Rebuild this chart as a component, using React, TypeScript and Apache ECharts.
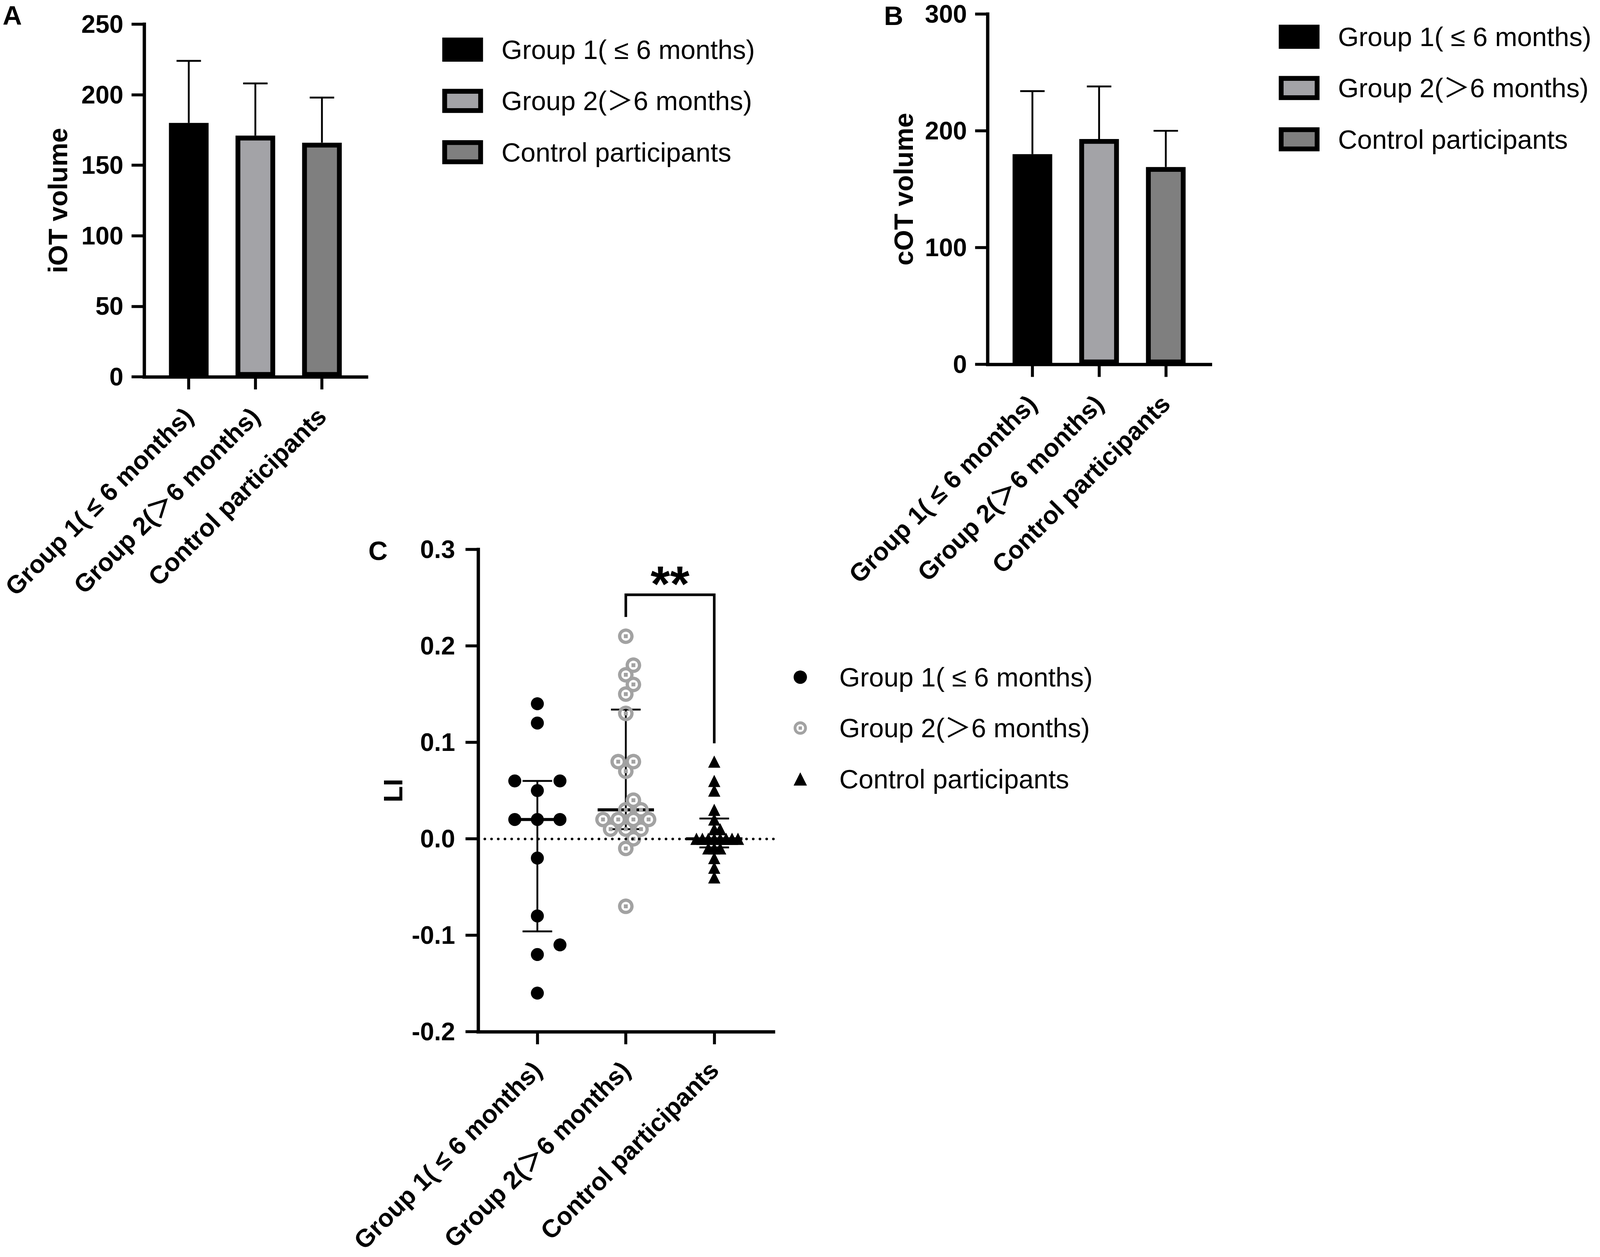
import React, { useEffect, useRef } from 'react';
import * as echarts from 'echarts';

// ---------- data ----------
const categories = ['Group 1( ≤ 6 months)', 'Group 2(＞6 months)', 'Control participants'];

const iotMean = [180, 171, 166];
const iotSdTop = [224, 208, 198];
const cotMean = [180, 193, 169];
const cotSdTop = [234, 238, 200];

const iotTicks = [0, 250, 50];
const cotTicks = [0, 300, 100];
const liTicks = [-0.2, 0.3, 0.1];

const liGroup1 = [0.14, 0.12, 0.06, 0.06, 0.05, 0.02, 0.02, 0.02, -0.02, -0.08, -0.11, -0.12, -0.16];
const liGroup2 = [0.21, 0.18, 0.17, 0.16, 0.15, 0.13, 0.08, 0.08, 0.07, 0.04, 0.03, 0.03, 0.02, 0.02, 0.02, 0.02, 0.01, 0.01, 0.01, 0.0, -0.01, -0.07];
const liControl = [0.08, 0.06, 0.05, 0.03, 0.02, 0.01, 0.01, 0, 0, 0, 0, 0, 0, 0, 0, -0.01, -0.01, -0.01, -0.02, -0.03, -0.04];

const liMedian = [0.02, 0.03, 0.0];
const liLow = [-0.096, 0.01, -0.009];
const liHigh = [0.06, 0.134, 0.021];

const sigPair = [1, 2];
const sigTop = 0.253;
const sigEnds = [0.23, 0.099];
const sigText = '**';

// ---------- layout / style (designed for a 4317 x 3219 canvas, scaled to the real size) ----------
const W = 4317;
const H = 3219;
const FONT = "'Liberation Sans', Arial, 'Noto Sans CJK SC', sans-serif";
const XMIN = -0.67;
const XMAX = 2.67;
const gridA = { left: 385, top: 62, width: 604, height: 903 };
const gridB = { left: 2665, top: 36, width: 601, height: 897 };
const gridC = { left: 1290, top: 1407, width: 797, height: 1235 };
const barColors = ['#000000', '#a3a3a7', '#7f7f7f'];
const RING =
  'path://M20,0 C31.05,0 40,8.95 40,20 C40,31.05 31.05,40 20,40 C8.95,40 0,31.05 0,20 C0,8.95 8.95,0 20,0 Z ' +
  'M20,8.5 C13.65,8.5 8.5,13.65 8.5,20 C8.5,26.35 13.65,31.5 20,31.5 C26.35,31.5 31.5,26.35 31.5,20 C31.5,13.65 26.35,8.5 20,8.5 Z ' +
  'M15,15 L25,15 L25,25 L15,25 Z';

function swarm(vals: number[], half: number, thr: number, pyu: number) {
  const order = vals.map((_, i) => i).sort((a, b) => vals[a] - vals[b]);
  const placed: { x: number; y: number }[] = [];
  const out: { dx: number; v: number }[] = new Array(vals.length);
  for (const i of order) {
    const y = vals[i] * pyu;
    for (let s = 0; s < 400; s++) {
      const k = s === 0 ? 0 : s % 2 === 1 ? (s + 1) / 2 : -s / 2;
      const x = k * half;
      if (placed.every((p) => Math.hypot(p.x - x, p.y - y) >= thr)) {
        placed.push({ x, y });
        out[i] = { dx: x, v: vals[i] };
        break;
      }
    }
  }
  return out;
}

function buildOption(cw: number, ch: number) {
  const sx = cw / W;
  const sy = ch / H;
  const s = Math.min(sx, sy);
  const X = (v: number) => v * sx;
  const Y = (v: number) => v * sy;
  const S = (v: number) => v * s;
  const g = (r: any) => ({ left: X(r.left), top: Y(r.top), width: X(r.width), height: Y(r.height), containLabel: false });

  const xAxisFor = (gridIndex: number, margin: number) => ({
    type: 'value',
    gridIndex,
    min: XMIN,
    max: XMAX,
    splitLine: { show: false },
    axisLine: { show: true, onZero: false, lineStyle: { color: '#000', width: S(9), cap: 'square' } },
    axisTick: { show: true, customValues: [0, 1, 2], length: S(34), lineStyle: { color: '#000', width: S(8) } },
    axisLabel: {
      show: true,
      customValues: [0, 1, 2],
      rotate: 45,
      margin: S(margin),
      formatter: (v: number) => categories[Math.round(v)] ?? '',
      fontFamily: FONT,
      fontWeight: 'bold',
      fontSize: S(68),
      color: '#000',
    },
  });

  const yAxisFor = (gridIndex: number, ticks: number[], name: string, nameGap: number, margin: number, fmt?: (v: number) => string) => ({
    type: 'value',
    gridIndex,
    min: ticks[0],
    max: ticks[1],
    interval: ticks[2],
    splitLine: { show: false },
    axisLine: { show: true, onZero: false, lineStyle: { color: '#000', width: S(9), cap: 'square' } },
    axisTick: { show: true, length: S(34), lineStyle: { color: '#000', width: S(8) } },
    axisLabel: { margin: S(margin), fontSize: S(68), fontWeight: 'bold', fontFamily: FONT, color: '#000', formatter: fmt },
    name,
    nameLocation: 'middle',
    nameGap: S(nameGap),
    nameTextStyle: { fontSize: S(72), fontWeight: 'bold', fontFamily: FONT, color: '#000' },
  });

  const barSeries = (prefix: string, axis: number, means: number[]) =>
    categories.map((c, i) => ({
      type: 'bar',
      name: prefix + c,
      xAxisIndex: axis,
      yAxisIndex: axis,
      data: [[i, means[i]]],
      barWidth: S(107),
      barGap: '-100%',
      itemStyle: { color: barColors[i], borderColor: '#000', borderWidth: S(13), opacity: 1 },
      z: 2,
      silent: true,
    }));

  const sdSeries = (axis: number, means: number[], tops: number[]) => ({
    type: 'custom',
    xAxisIndex: axis,
    yAxisIndex: axis,
    silent: true,
    z: 3,
    data: means.map((m, i) => [i, m, tops[i]]),
    renderItem: (_p: any, api: any) => {
      const p0 = api.coord([api.value(0), api.value(1)]);
      const p1 = api.coord([api.value(0), api.value(2)]);
      const st = { stroke: '#000', lineWidth: S(5) };
      return {
        type: 'group',
        children: [
          { type: 'line', shape: { x1: p0[0], y1: p0[1], x2: p1[0], y2: p1[1] }, style: st },
          { type: 'line', shape: { x1: p1[0] - S(33), y1: p1[1], x2: p1[0] + S(33), y2: p1[1] }, style: st },
        ],
      };
    },
  });

  const legendFor = (names: string[], left: number, top: number, bars: boolean) => {
    const base: any = {
      orient: 'vertical',
      left: X(left),
      top: Y(top),
      selectedMode: false,
      data: names,
      formatter: (n: string) => n.slice(2),
      textStyle: { fontSize: S(72), fontFamily: FONT, color: '#000', padding: [0, 0, 0, S(bars ? 51 : 82)] },
    };
    if (bars) {
      base.icon = 'rect';
      base.itemWidth = S(97);
      base.itemHeight = S(52);
      base.itemGap = Y(63);
      base.itemStyle = { borderColor: '#000', borderWidth: S(13), opacity: 1 };
    } else {
      base.itemWidth = S(36);
      base.itemHeight = S(36);
      base.itemGap = Y(62);
      base.itemStyle = { opacity: 1 };
    }
    return base;
  };

  const letter = (t: string, x: number, y: number) => ({
    type: 'text',
    x: X(x),
    y: Y(y),
    style: { text: t, fontSize: S(72), fontWeight: 'bold', fontFamily: FONT, fill: '#000', textAlign: 'left', textVerticalAlign: 'middle', verticalAlign: 'middle' },
  });

  const pxX = X(gridC.width) / (XMAX - XMIN);
  const pyu = Y(gridC.height) / (liTicks[1] - liTicks[0]);
  const toPts = (vals: number[], idx: number, half: number, thr: number) =>
    swarm(vals, S(half), S(thr), pyu).map((p) => [idx + p.dx / pxX, p.v]);

  const namesA = categories.map((c) => 'A:' + c);
  const namesB = categories.map((c) => 'B:' + c);
  const namesC = categories.map((c) => 'C:' + c);

  return {
    animation: false,
    backgroundColor: '#fff',
    grid: [g(gridA), g(gridB), g(gridC)],
    xAxis: [xAxisFor(0, 95), xAxisFor(1, 95), xAxisFor(2, 92)],
    yAxis: [
      yAxisFor(0, iotTicks, 'iOT volume', 197, 56),
      yAxisFor(1, cotTicks, 'cOT volume', 191, 56),
      yAxisFor(2, liTicks, 'LI', 194, 62, (v: number) => v.toFixed(1)),
    ],
    legend: [
      legendFor(namesA, 1188, 88, true),
      legendFor(namesB, 3445, 55, true),
      legendFor(namesC, 2136, 1695, false),
    ],
    graphic: [letter('A', 7, 39), letter('B', 2385, 40), letter('C', 994, 1410)],
    series: [
      ...barSeries('A:', 0, iotMean),
      sdSeries(0, iotMean, iotSdTop),
      ...barSeries('B:', 1, cotMean),
      sdSeries(1, cotMean, cotSdTop),
      {
        type: 'scatter',
        name: 'zero',
        xAxisIndex: 2,
        yAxisIndex: 2,
        data: [],
        z: 1,
        silent: true,
        markLine: {
          silent: true,
          symbol: ['none', 'none'],
          label: { show: false },
          lineStyle: { color: '#000', width: S(7), type: [0.1, S(18)], cap: 'round', opacity: 1 },
          data: [{ yAxis: 0 }],
        },
      },
      {
        type: 'custom',
        xAxisIndex: 2,
        yAxisIndex: 2,
        silent: true,
        z: 2,
        data: liMedian.map((m, i) => [i, m, liLow[i], liHigh[i]]),
        renderItem: (_p: any, api: any) => {
          const x = api.value(0);
          const pm = api.coord([x, api.value(1)]);
          const pl = api.coord([x, api.value(2)]);
          const ph = api.coord([x, api.value(3)]);
          const st = { stroke: '#000', lineWidth: S(5) };
          return {
            type: 'group',
            children: [
              { type: 'line', shape: { x1: pl[0], y1: pl[1], x2: ph[0], y2: ph[1] }, style: st },
              { type: 'line', shape: { x1: ph[0] - S(40), y1: ph[1], x2: ph[0] + S(40), y2: ph[1] }, style: st },
              { type: 'line', shape: { x1: pl[0] - S(40), y1: pl[1], x2: pl[0] + S(40), y2: pl[1] }, style: st },
              { type: 'line', shape: { x1: pm[0] - S(76), y1: pm[1], x2: pm[0] + S(76), y2: pm[1] }, style: { stroke: '#000', lineWidth: S(8) } },
            ],
          };
        },
      },
      {
        type: 'scatter',
        name: namesC[0],
        xAxisIndex: 2,
        yAxisIndex: 2,
        z: 4,
        silent: true,
        symbol: 'circle',
        symbolSize: S(35),
        itemStyle: { color: '#000', opacity: 1 },
        data: toPts(liGroup1, 0, 30.5, 45),
      },
      {
        type: 'scatter',
        name: namesC[1],
        xAxisIndex: 2,
        yAxisIndex: 2,
        z: 4,
        silent: true,
        symbol: RING,
        symbolSize: S(42),
        itemStyle: { color: '#a2a2a2', opacity: 1 },
        data: toPts(liGroup2, 1, 20.5, 30),
      },
      {
        type: 'scatter',
        name: namesC[2],
        xAxisIndex: 2,
        yAxisIndex: 2,
        z: 4,
        silent: true,
        symbol: 'triangle',
        symbolSize: [S(33), S(33)],
        itemStyle: { color: '#000', opacity: 1 },
        data: toPts(liControl, 2, 8, 14),
      },
      {
        type: 'custom',
        xAxisIndex: 2,
        yAxisIndex: 2,
        silent: true,
        z: 5,
        data: [[sigPair[0], sigPair[1], sigTop, sigEnds[0], sigEnds[1]]],
        renderItem: (_p: any, api: any) => {
          const a = api.value(0);
          const b = api.value(1);
          const t = api.value(2);
          const pA = api.coord([a, api.value(3)]);
          const pAT = api.coord([a, t]);
          const pBT = api.coord([b, t]);
          const pB = api.coord([b, api.value(4)]);
          return {
            type: 'group',
            children: [
              {
                type: 'polyline',
                shape: { points: [pA, pAT, pBT, pB] },
                style: { stroke: '#000', lineWidth: S(7), fill: 'none', lineJoin: 'miter' },
              },
              {
                type: 'text',
                x: (pAT[0] + pBT[0]) / 2,
                y: pAT[1] - S(30),
                style: { text: sigText, fontSize: S(135), fontWeight: 'bold', fontFamily: FONT, fill: '#000', textAlign: 'center', textVerticalAlign: 'middle', align: 'center', verticalAlign: 'middle' },
              },
            ],
          };
        },
      },
    ],
  };
}

export default function App() {
  const ref = useRef<HTMLDivElement>(null);
  useEffect(() => {
    document.body.style.margin = '0';
    document.body.style.overflow = 'hidden';
    document.documentElement.style.overflow = 'hidden';
    if (!ref.current) return;
    const chart = echarts.init(ref.current, undefined, { renderer: 'svg' });
    chart.setOption(buildOption(chart.getWidth(), chart.getHeight()) as any);
    return () => chart.dispose();
  }, []);
  return <div ref={ref} style={{ width: '100vw', height: '100vh' }} />;
}
